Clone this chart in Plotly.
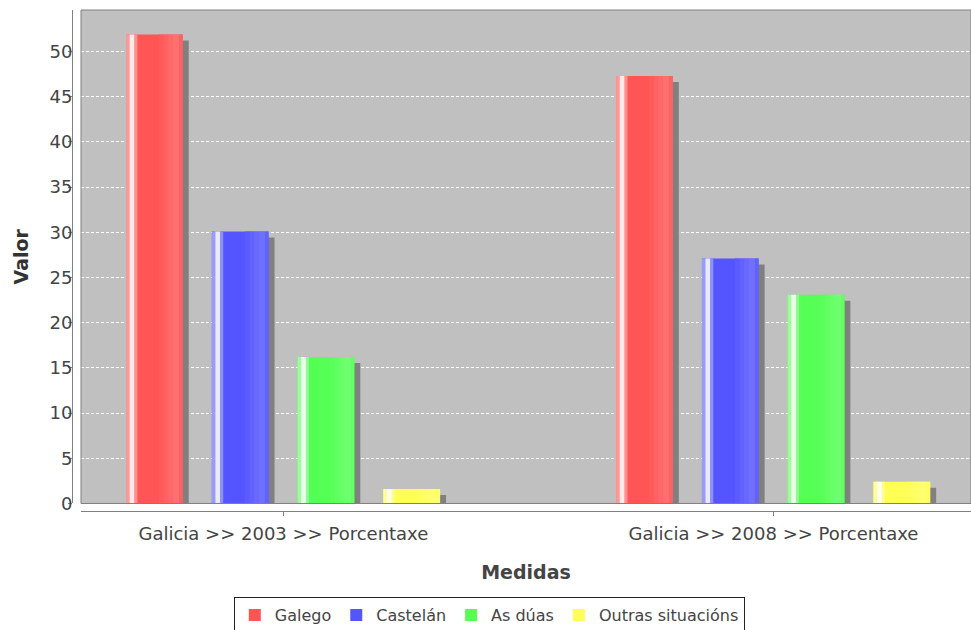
import plotly.graph_objects as go

# ---- data ----
categories = ["Galicia >> 2003 >> Porcentaxe", "Galicia >> 2008 >> Porcentaxe"]
series_names = ["Galego", "Castelán", "As dúas", "Outras situacións"]
galego = [51.9, 47.3]
castelan = [30.1, 27.1]
as_duas = [16.2, 23.1]
outras = [1.6, 2.4]
y_ticks = [0, 5, 10, 15, 20, 25, 30, 35, 40, 45, 50]

series_values = [galego, castelan, as_duas, outras]
base_rgb = [(255, 85, 85), (85, 85, 255), (85, 255, 85), (255, 255, 85)]

# ---- layout constants (category units) ----
BAR_W = 0.1157
PITCH = 0.175
FIRST_OFF = -0.321
SHADOW_DX = 0.0122
SHADOW_DY = 0.664
FONT = "DejaVu Sans"
TXT = "#444444"

# gradient strips: (start frac, end frac, white mix)
strips = [
    (0.00, 0.06, 0.40),
    (0.06, 0.15, 0.88),
    (0.15, 0.20, 0.35),
    (0.58, 0.66, 0.04),
    (0.66, 0.74, 0.08),
    (0.74, 0.82, 0.12),
    (0.82, 0.94, 0.16),
    (0.94, 1.00, 0.08),
]


def mix(rgb, t):
    r, g, b = rgb
    return "rgb(%d,%d,%d)" % (r + (255 - r) * t, g + (255 - g) * t, b + (255 - b) * t)


fig = go.Figure()

# shadows
for i, vals in enumerate(series_values):
    fig.add_trace(go.Bar(
        x=categories, y=[max(v - SHADOW_DY, 0) for v in vals],
        offset=FIRST_OFF + i * PITCH + SHADOW_DX, width=BAR_W,
        marker=dict(color="#808080", line=dict(width=0)),
        showlegend=False, hoverinfo="skip"))

# main bars + gradient strips
for i, (name, vals) in enumerate(zip(series_names, series_values)):
    off = FIRST_OFF + i * PITCH
    fig.add_trace(go.Bar(
        x=categories, y=vals, name=name,
        offset=off, width=BAR_W,
        marker=dict(color=mix(base_rgb[i], 0), line=dict(width=0))))
    for (s0, s1, t) in strips:
        fig.add_trace(go.Bar(
            x=categories, y=vals,
            offset=off + s0 * BAR_W, width=(s1 - s0) * BAR_W,
            marker=dict(color=mix(base_rgb[i], t), line=dict(width=0)),
            showlegend=False, hoverinfo="skip"))

fig.update_layout(
    width=971, height=630,
    margin=dict(l=72, r=0, t=10, b=119, autoexpand=False),
    paper_bgcolor="white",
    plot_bgcolor="#C0C0C0",
    barmode="overlay",
    font=dict(family=FONT, size=17, color=TXT),
    xaxis=dict(
        domain=[0.01, 1], anchor="free", position=0,
        range=[-0.413, 1.403], type="category",
        showgrid=False, zeroline=False,
        showline=True, linecolor="#808080", linewidth=1,
        ticks="outside", ticklen=4, tickcolor="#808080",
        tickfont=dict(size=18, color=TXT), ticklabelstandoff=2,
        title=dict(text="<b>Medidas</b>", font=dict(size=19, color=TXT), standoff=23),
        automargin=False,
    ),
    yaxis=dict(
        domain=[0.015, 1], anchor="free", position=0,
        range=[0, 54.6], tickvals=y_ticks,
        showgrid=True, gridcolor="white", gridwidth=1, griddash="3px,2px",
        zeroline=False,
        showline=True, linecolor="#808080", linewidth=1,
        ticks="outside", ticklen=4, tickcolor="#808080",
        tickfont=dict(size=18, color=TXT), ticklabelstandoff=-8,
        title=dict(text="<b>Valor</b>", font=dict(size=19, color="#333333"), standoff=14),
        automargin=False,
    ),
    legend=dict(
        orientation="h", x=0.180, xanchor="left", y=-0.1717, yanchor="top",
        bgcolor="white", bordercolor="#222222", borderwidth=1,
        font=dict(size=16, color=TXT), traceorder="normal",
    ),
    shapes=[dict(type="rect", xref="x domain", yref="y domain",
                 x0=0, x1=1, y0=0, y1=1, line=dict(color="#808080", width=1),
                 layer="above")],
)

fig.write_html("out.html")
